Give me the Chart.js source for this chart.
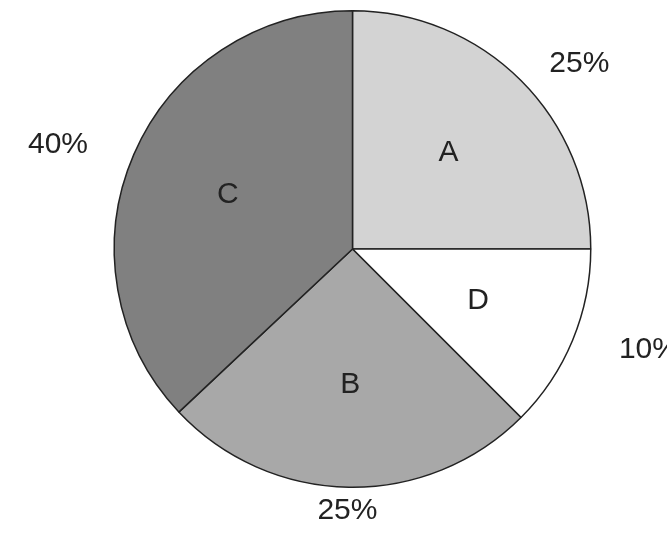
<!DOCTYPE html>
<html><head><script src="https://cdn.jsdelivr.net/npm/chart.js@4"></script>
<style>html,body{margin:0;padding:0;background:#fff}#w{width:667px;height:535px}</style></head>
<body><div id="w"><canvas id="c"></canvas></div>
<script>
const categories=["A","D","B","C"];
const values=[25,12.5,25.5,37];
const valueLabels=["25%","10%","25%","40%"];
const colors=["#d3d3d3","#ffffff","#a8a8a8","#808080"];
const labelPlugin={id:"lbl",afterDatasetsDraw(chart){
 const ctx=chart.ctx;const meta=chart.getDatasetMeta(0);
 ctx.save();ctx.font="30px 'Liberation Sans', Arial, sans-serif";ctx.fillStyle="#222";ctx.textBaseline="middle";ctx.textAlign="center";
 meta.data.forEach((arc,i)=>{
  const a=(arc.startAngle+arc.endAngle)/2,r=arc.outerRadius,x=arc.x,y=arc.y;
  ctx.fillText(categories[i],x+Math.cos(a)*r*0.57,y+Math.sin(a)*r*0.57);
  const t=valueLabels[i],w=ctx.measureText(t).width;
  const px=x+Math.cos(a)*r*1.12+Math.cos(a)*w*0.9,py=y+Math.sin(a)*r*1.1;
  ctx.fillText(t,px,py);
 });ctx.restore();}};
new Chart(document.getElementById("c"),{type:"pie",
 data:{labels:categories,datasets:[{data:values,backgroundColor:colors,borderColor:"#222",borderWidth:1.5}]},
 options:{responsive:true,maintainAspectRatio:false,animation:false,
  layout:{padding:{left:113,right:75,top:10,bottom:47}},
  plugins:{legend:{display:false},tooltip:{enabled:false}}},
 plugins:[labelPlugin]});
</script></body></html>
